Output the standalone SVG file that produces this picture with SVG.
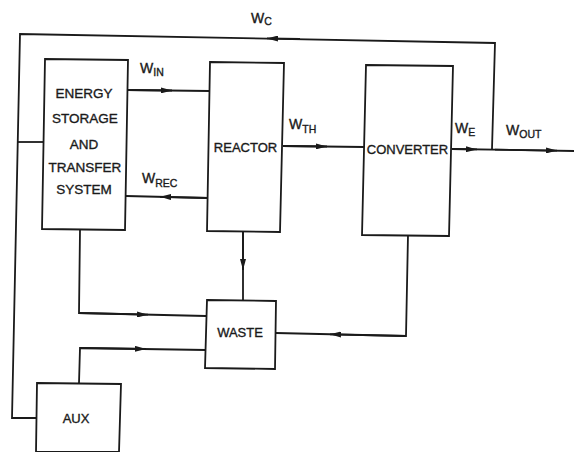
<svg xmlns="http://www.w3.org/2000/svg" width="574" height="452" viewBox="0 0 574 452">
<style>
.box{fill:none;stroke:#1a1a1a;stroke-width:1.8;stroke-linejoin:miter}
.ln{fill:none;stroke:#1a1a1a;stroke-width:1.8}
.t{font-family:"Liberation Sans",Arial,sans-serif;font-size:13px;fill:#1a1a1a;stroke:#1a1a1a;stroke-width:0.35;text-anchor:middle}
.ess{font-size:13.5px}
.w{font-family:"Liberation Sans",Arial,sans-serif;font-size:14px;fill:#1a1a1a;stroke:#1a1a1a;stroke-width:0.35}
.s{font-size:10.5px}
</style>
<defs>
<marker id="ar" viewBox="0 0 11 6" refX="11" refY="3" markerWidth="11" markerHeight="6" markerUnits="userSpaceOnUse" orient="auto">
<path d="M0,0 L11,3 L0,6 Z" fill="#1a1a1a"/>
</marker>
</defs>
<rect width="574" height="452" fill="#fff"/>
<g id="connectors">
<polyline class="ln" points="492,149 495,43 20,34 12,418 37,418"/>
<line class="ln" x1="300" y1="39" x2="267" y2="38.4" marker-end="url(#ar)"/>
<line class="ln" x1="17" y1="142" x2="43" y2="142"/>
<line class="ln" x1="128" y1="90" x2="209" y2="91"/>
<line class="ln" x1="128" y1="90" x2="172" y2="90.5" marker-end="url(#ar)"/>
<line class="ln" x1="208" y1="198" x2="126" y2="196"/>
<line class="ln" x1="208" y1="198" x2="160" y2="196.8" marker-end="url(#ar)"/>
<line class="ln" x1="283" y1="146" x2="364" y2="147"/>
<line class="ln" x1="283" y1="146" x2="327" y2="146.5" marker-end="url(#ar)"/>
<line class="ln" x1="452" y1="149" x2="574" y2="151"/>
<line class="ln" x1="452" y1="149" x2="477" y2="149.4" marker-end="url(#ar)"/>
<line class="ln" x1="495" y1="149.6" x2="557" y2="150.6" marker-end="url(#ar)"/>
<polyline class="ln" points="80,230 79,313 206,316"/>
<line class="ln" x1="79" y1="313" x2="148" y2="314.7" marker-end="url(#ar)"/>
<line class="ln" x1="243" y1="232" x2="243" y2="300"/>
<line class="ln" x1="243" y1="232" x2="243" y2="270" marker-end="url(#ar)"/>
<polyline class="ln" points="408,235 406,336 276,333"/>
<line class="ln" x1="406" y1="336" x2="330" y2="334.3" marker-end="url(#ar)"/>
<polyline class="ln" points="79,383 80,348 206,350"/>
<line class="ln" x1="80" y1="348" x2="146" y2="349" marker-end="url(#ar)"/>
</g>
<g id="ess">
<polygon class="box" points="45,59 128,60 125,230 42,229"/>
<text class="t ess" x="84" y="98">ENERGY</text>
<text class="t ess" x="85" y="123">STORAGE</text>
<text class="t ess" x="84" y="149">AND</text>
<text class="t ess" x="85" y="172">TRANSFER</text>
<text class="t ess" x="84" y="194">SYSTEM</text>
</g>
<g id="reactor">
<polygon class="box" points="210,62 284,63 280,232 207,231"/>
<text class="t" x="245.5" y="152">REACTOR</text>
</g>
<g id="converter">
<polygon class="box" points="366,65 453,66 449,236 362,235"/>
<text class="t" x="407.5" y="154">CONVERTER</text>
</g>
<g id="waste">
<polygon class="box" points="207,300 276,301 275,369 205,368"/>
<text class="t" x="240" y="337">WASTE</text>
</g>
<g id="aux">
<polygon class="box" points="37,383 121,384 119,452 36,452"/>
<text class="t" x="76" y="423">AUX</text>
</g>
<g id="labels">
<text class="w" x="251" y="23">W<tspan class="s" dy="2">C</tspan></text>
<text class="w" x="140" y="73">W<tspan class="s" dy="3">IN</tspan></text>
<text class="w" x="142" y="183">W<tspan class="s" dy="4">REC</tspan></text>
<text class="w" x="289" y="129">W<tspan class="s" dy="4">TH</tspan></text>
<text class="w" x="455" y="133">W<tspan class="s" dy="3">E</tspan></text>
<text class="w" x="506" y="135">W<tspan class="s" dy="3">OUT</tspan></text>
</g>
</svg>
